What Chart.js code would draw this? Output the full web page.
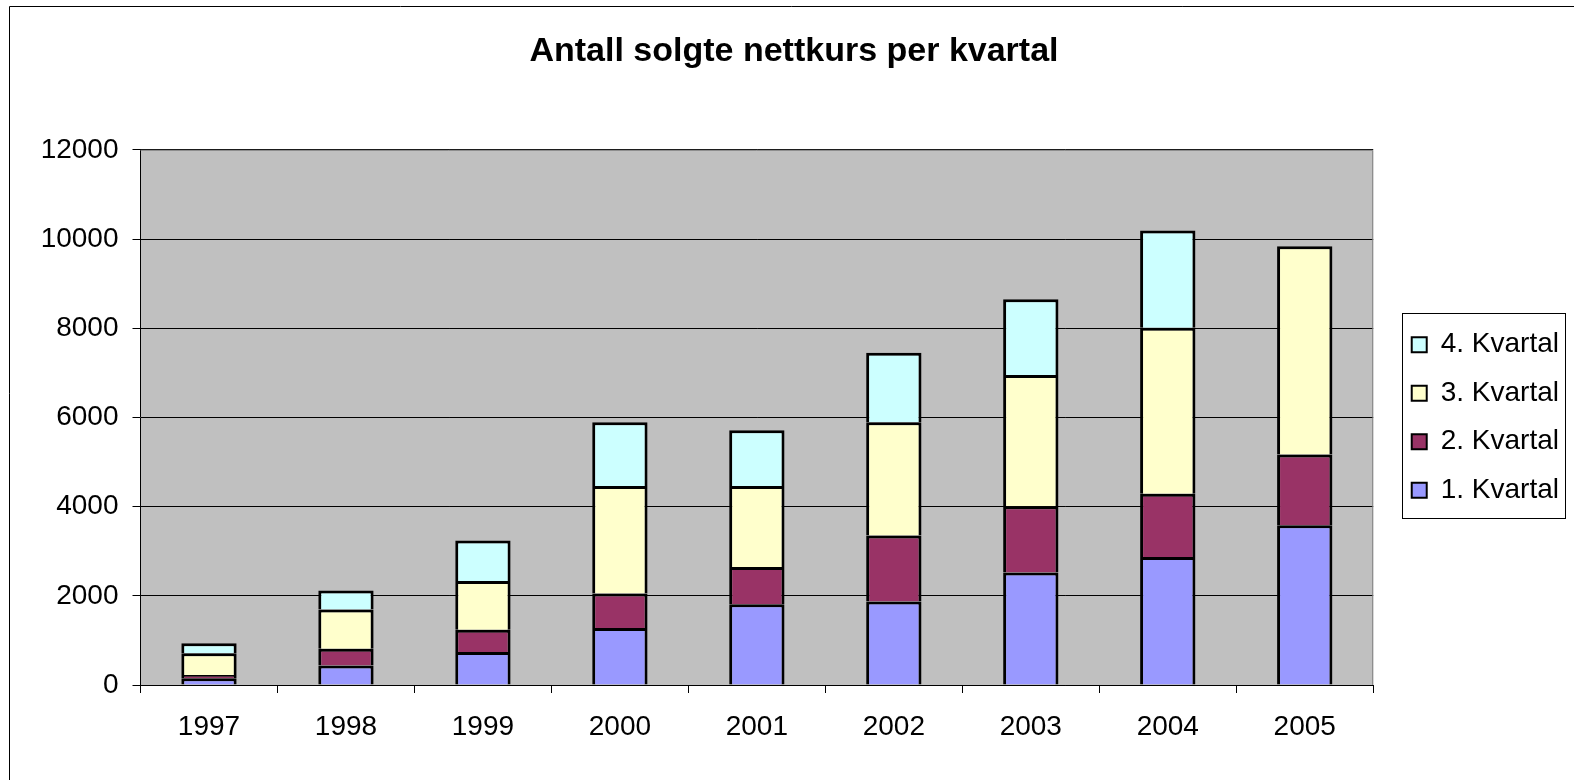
<!DOCTYPE html>
<html>
<head>
<meta charset="utf-8">
<title>Antall solgte nettkurs per kvartal</title>
<script src="https://cdn.jsdelivr.net/npm/chart.js@4/dist/chart.umd.min.js"></script>
<style>
  body { margin: 0; background: #fff; }
  canvas { display: block; }
</style>
</head>
<body>
<canvas id="myChartBar" width="1574" height="780"></canvas>
<script>
'use strict'

// data
var years = ['1997', '1998', '1999', '2000', '2001', '2002', '2003', '2004', '2005'];
var kvartal1 = [150, 440, 740, 1280, 1810, 1870, 2520, 2870, 3580];
var kvartal2 = [75, 375, 500, 770, 835, 1480, 1490, 1420, 1590];
var kvartal3 = [485, 880, 1090, 2410, 1815, 2540, 2940, 3720, 4665];
var kvartal4 = [225, 425, 910, 1430, 1250, 1560, 1700, 2180, 0];
var seriesNames = ['1. Kvartal', '2. Kvartal', '3. Kvartal', '4. Kvartal'];
var yTicks = [0, 2000, 4000, 6000, 8000, 10000, 12000];

var colors = ['#9999FF', '#993366', '#FFFFCC', '#CCFFFF'];

Chart.defaults.font.family = '"Liberation Sans", Arial, sans-serif';
Chart.defaults.color = '#000';

// grey plot area, page frame and the box round the legend
var excelLook = {
    id: 'excelLook',
    beforeDraw: function(chart) {
        var ctx = chart.ctx;
        var a = chart.chartArea;
        ctx.save();
        ctx.fillStyle = '#C0C0C0';
        ctx.fillRect(a.left, a.top, a.right - a.left, a.bottom - a.top);
        ctx.strokeStyle = '#000';
        ctx.lineWidth = 1;
        ctx.beginPath();
        ctx.moveTo(9.5, chart.height);
        ctx.lineTo(9.5, 6.5);
        ctx.lineTo(chart.width, 6.5);
        ctx.stroke();
        ctx.restore();
    },
    afterDraw: function(chart) {
        var ctx = chart.ctx;
        var a = chart.chartArea;
        var boxes = chart.legend.legendHitBoxes;
        ctx.save();
        ctx.strokeStyle = '#808080';
        ctx.lineWidth = 1;
        ctx.beginPath();
        ctx.moveTo(a.left, a.top + 0.5);
        ctx.lineTo(a.right - 0.5, a.top + 0.5);
        ctx.lineTo(a.right - 0.5, a.bottom);
        ctx.stroke();

        if (boxes && boxes.length) {
            var first = boxes[0], last = boxes[boxes.length - 1];
            var left = first.left - 10;
            var right = first.left + first.width + 6;
            var top = first.top + first.height / 2 - 32;
            var bottom = last.top + last.height / 2 + 27;
            ctx.strokeStyle = '#000';
            ctx.strokeRect(Math.round(left) + 0.5, Math.round(top) + 0.5,
                Math.round(right - left), Math.round(bottom - top));
        }
        ctx.restore();
    }
};

var datasets = [kvartal1, kvartal2, kvartal3, kvartal4].map(function(values, i) {
    return {
        label: seriesNames[i],
        data: values,
        backgroundColor: colors[i],
        borderColor: '#000',
        borderWidth: 3,
        borderSkipped: 'start',
        barPercentage: 0.404,
        categoryPercentage: 1
    };
});

var ctx = document.getElementById('myChartBar').getContext('2d');

var mychart = new Chart(ctx, {
    type: 'bar',
    data: {
        labels: years,
        datasets: datasets
    },
    plugins: [excelLook],
    options: {
        responsive: false,
        animation: false,
        layout: {
            padding: { left: 19, right: 5, top: 0, bottom: 0 }
        },
        plugins: {
            title: {
                display: true,
                text: 'Antall solgte nettkurs per kvartal',
                color: '#000',
                font: { size: 34, weight: 'bold' },
                padding: { top: 31, bottom: 78 }
            },
            legend: {
                position: 'right',
                fullSize: false,
                reverse: true,
                labels: {
                    color: '#000',
                    font: { size: 28 },
                    boxWidth: 15,
                    boxHeight: 15,
                    padding: 20.5,
                    generateLabels: function(chart) {
                        var items = Chart.defaults.plugins.legend.labels.generateLabels(chart);
                        items.forEach(function(it) { it.lineWidth = 2; });
                        return items;
                    }
                }
            },
            tooltip: { enabled: false }
        },
        scales: {
            x: {
                stacked: true,
                grid: {
                    offset: true,
                    drawOnChartArea: false,
                    drawTicks: true,
                    tickLength: 8,
                    color: '#000'
                },
                border: { color: '#000', width: 1 },
                ticks: {
                    color: '#000',
                    font: { size: 28 },
                    padding: 17,
                    maxRotation: 0
                },
                afterFit: function(scale) { scale.height = 95; }
            },
            y: {
                stacked: true,
                min: 0,
                max: 12000,
                afterBuildTicks: function(scale) {
                    scale.ticks = yTicks.map(function(v) { return { value: v }; });
                },
                grid: {
                    color: '#000',
                    lineWidth: 1,
                    tickLength: 8
                },
                border: { color: '#000', width: 1 },
                ticks: {
                    color: '#000',
                    font: { size: 28 },
                    padding: 14,
                    callback: function(value) { return String(value); }
                },
                afterFit: function(scale) { scale.width = 121.5; }
            },
            gap: {
                // empty room between plot and legend
                type: 'linear',
                position: 'right',
                grid: { display: false },
                border: { display: false },
                ticks: { display: false },
                afterFit: function(scale) { scale.width = 18; }
            }
        }
    }
});
</script>
</body>
</html>
